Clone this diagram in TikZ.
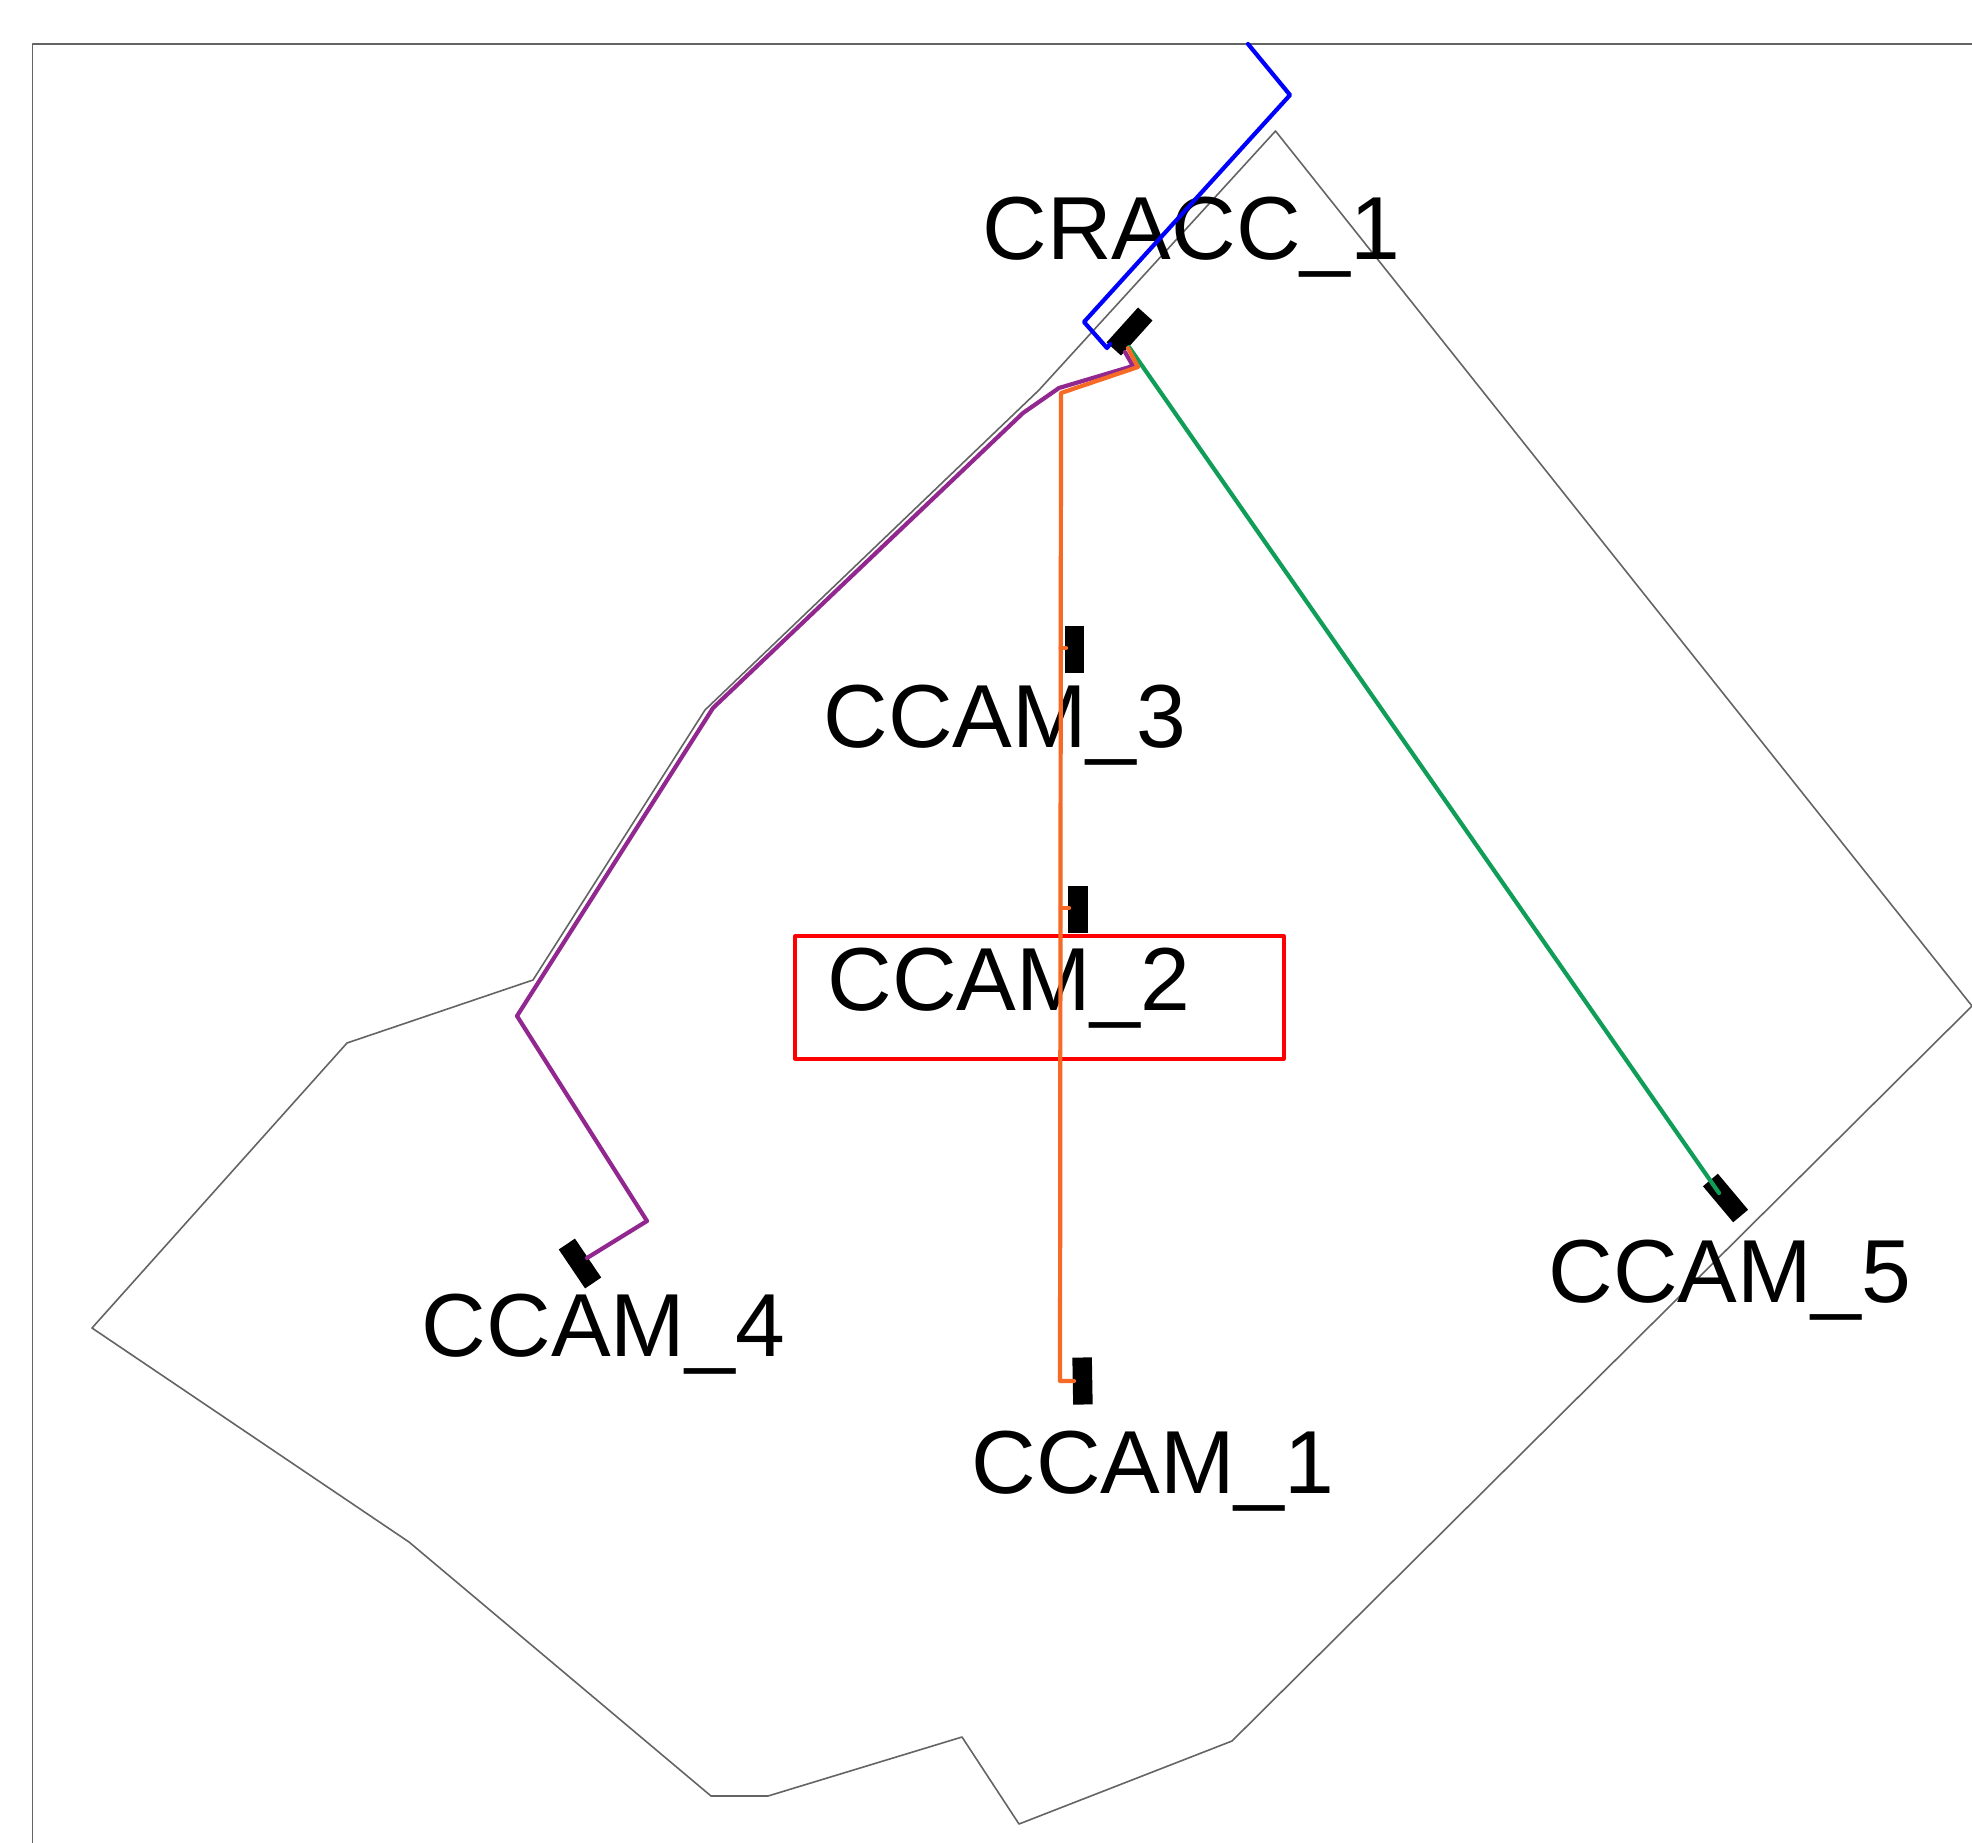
\documentclass[tikz,border=0pt]{standalone}
\usepackage{xcolor}
\usepackage{fontspec}
\setmainfont{Liberation Sans}
\definecolor{runorange}{RGB}{246,106,38}
\definecolor{runpurple}{RGB}{146,39,143}
\definecolor{rungreen}{RGB}{15,157,88}
\definecolor{wallgray}{RGB}{100,100,100}
\begin{document}
\begin{tikzpicture}[
  x=1pt, y=-1pt,
  every node/.style={inner sep=0pt},
  wall/.style={draw=wallgray, line width=1.6pt, line join=round},
  cable/.style={line width=4.2pt, line join=round, line cap=round},
  cam/.style={fill=black, minimum width=47pt, minimum height=19.5pt},
  tag/.style={anchor=base, font=\fontsize{89.5}{90}\selectfont}
]
\useasboundingbox (0,0) rectangle (1972,1843);
% frame and floor outline
\coordinate (f1) at (32.5,1843);
\coordinate (f2) at (32.5,44);
\coordinate (f3) at (1972,44);
\draw[wall] (f1) -- (f2) -- (f3);
\draw[wall] (1275.5,131) -- (1972,1006) -- (1232,1741) -- (1019,1824) -- (962,1737)
  -- (768,1796) -- (711,1796) -- (409,1542) -- (92,1328) -- (347,1043) -- (533,980)
  -- (705,710) -- (1039,390) -- cycle;
% labels
\node[tag] (lblcracc) at (1191.5,259.5) {CRACC\_1};
\node[tag] (lblthree) at (1005,747.5) {CCAM\_3};
\node[tag] (lbltwo) at (1009,1010.5) {CCAM\_2};
\node[tag] (lblfive) at (1730,1302.5) {CCAM\_5};
\node[tag] (lblfour) at (603.5,1356.5) {CCAM\_4};
\node[tag] (lblone) at (1153,1493.5) {CCAM\_1};
\node[draw=red, line width=3.2pt, line join=round, minimum width=489pt, minimum height=123pt] (selbox) at (1039.5,997.5) {};
% cameras
\node[cam, rotate=48] (cracc) at (1129.5,331.5) {};
\node[cam, rotate=90] (ccamthree) at (1074.5,649) {};
\node[cam, rotate=90] (ccamtwo) at (1078,909.5) {};
\node[cam, rotate=91] (ccamone) at (1082.5,1381) {};
\node[cam, rotate=-56] (ccamfour) at (580,1263.5) {};
\node[cam, rotate=-50] (ccamfive) at (1725.5,1198) {};
% bends
\coordinate (b1) at (1248,44);
\coordinate (b2) at (1290,95);
\coordinate (b3) at (1084,322);
\coordinate (b4) at (1107,348);
\coordinate (b5) at (1110,344);
\coordinate (o1) at (1128,348);
\coordinate (o2) at (1138,367);
\coordinate (o3) at (1061,393);
\coordinate (o4) at (1060,1381);
\coordinate (o5) at (1074,1381);
\coordinate (s3) at (1060.5,648);
\coordinate (s3e) at (1066,648);
\coordinate (s2) at (1060.5,908);
\coordinate (s2e) at (1069,908);
\coordinate (p1) at (1125,352);
\coordinate (p2) at (1133,366);
\coordinate (p3) at (1059,388);
\coordinate (p4) at (1023,413);
\coordinate (p5) at (713,708);
\coordinate (p6) at (517,1016);
\coordinate (p7) at (647,1221);
\coordinate (p8) at (587,1258);
\coordinate (g1) at (1129,347);
\coordinate (g2) at (1719,1193);
% runs
\draw[cable, draw=blue] (b1) -- (b2) -- (b3) -- (b4) -- (b5);
\draw[cable, draw=rungreen] (g1) -- (g2);
\draw[cable, draw=runpurple] (p1) -- (p2) -- (p3) -- (p4) -- (p5) -- (p6) -- (p7) -- (p8);
\draw[cable, draw=runorange] (o1) -- (o2) -- (o3) -- (o4) -- (o5);
\draw[cable, draw=runorange] (s3) -- (s3e);
\draw[cable, draw=runorange] (s2) -- (s2e);
\end{tikzpicture}
\end{document}
